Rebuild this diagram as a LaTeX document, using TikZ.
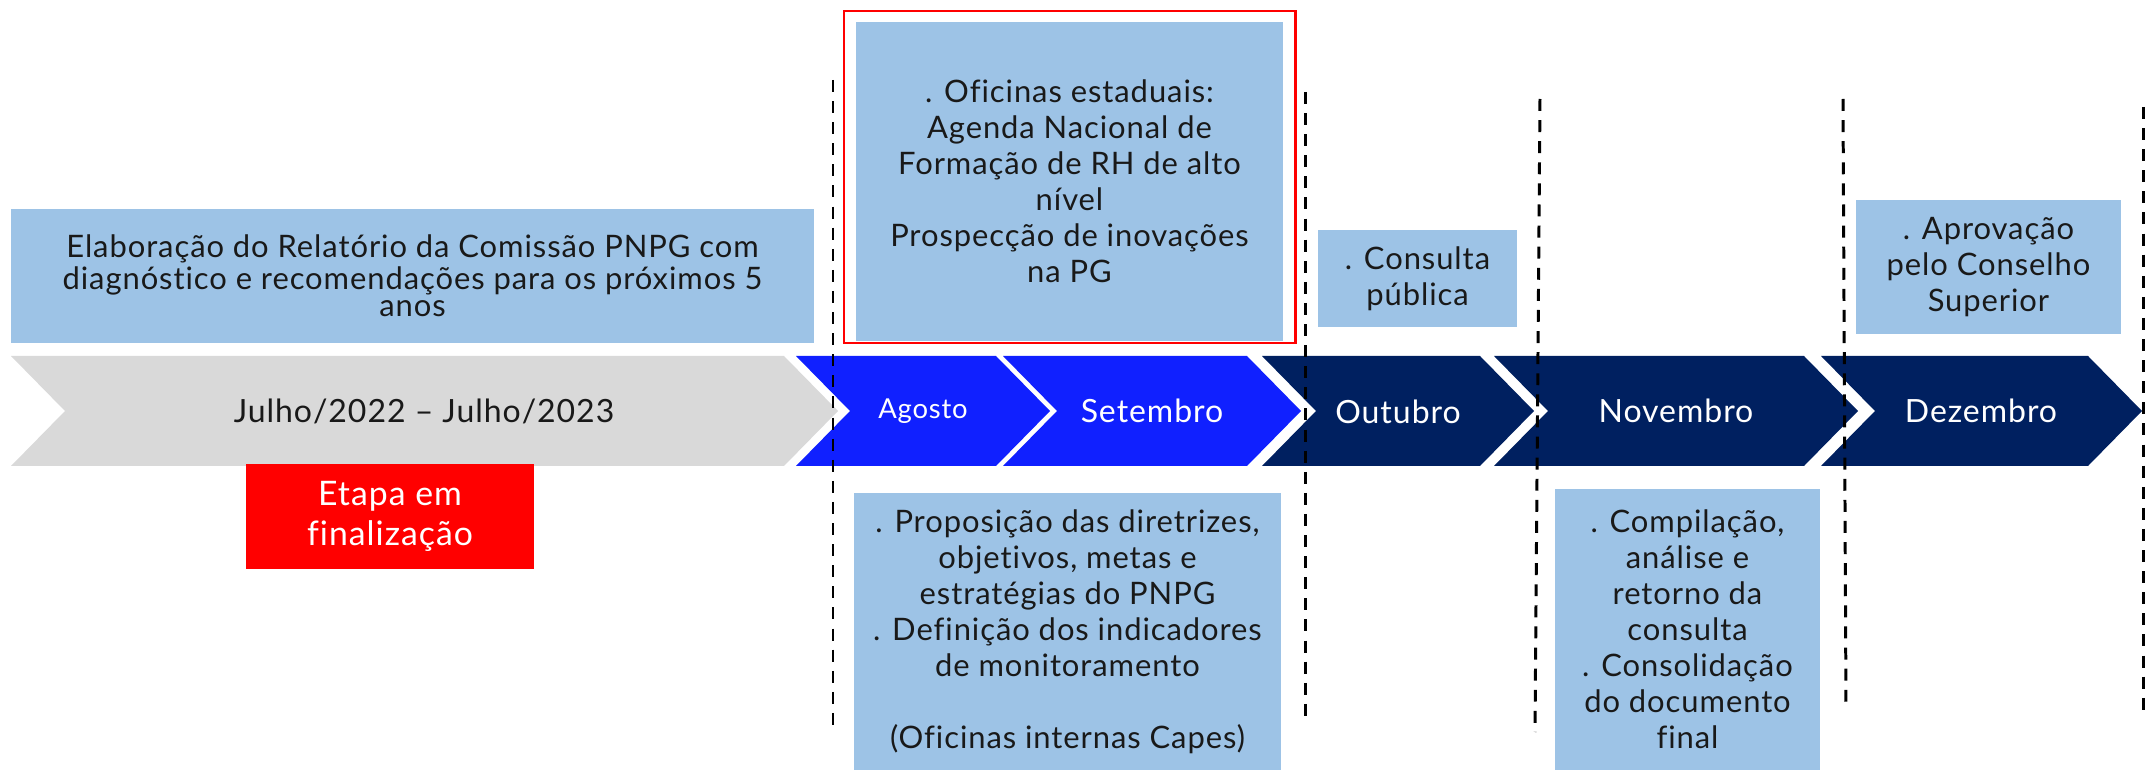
\documentclass[tikz,border=0pt]{standalone}
\usepackage{fontspec}
\setmainfont{Lato}[LetterSpace=3, Ligatures=NoCommon]
\definecolor{boxblue}{HTML}{9DC3E6}
\definecolor{arrowgray}{HTML}{D9D9D9}
\definecolor{brightblue}{HTML}{1020FF}
\definecolor{navy}{HTML}{002060}
\definecolor{alertred}{HTML}{FF0000}

\begin{document}
\begin{tikzpicture}[x=0.01cm, y=-0.01cm,
        note/.style = {fill=boxblue, align=center, inner sep=0pt, text=black!90,
                       font=\fontsize{8.8}{10.24}\selectfont},
        month/.style = {text=white, font=\fontsize{9.1}{10}\selectfont},
        divider/.style = {line width=0.85pt, dash pattern=on 3.4pt off 2.6pt}]
        \useasboundingbox (0,0) rectangle (2156,770);

        % timeline
        \fill[arrowgray]  (11,356) -- (784,356) -- (838,411) -- (784,466) -- (11,466) -- (65,411) -- cycle;
        \fill[brightblue] (796,356) -- (996,356) -- (1050,411) -- (996,466) -- (796,466) -- (850,411) -- cycle;
        \fill[brightblue] (1003,356) -- (1247,356) -- (1301,411) -- (1247,466) -- (1003,466) -- (1057,411) -- cycle;
        \fill[navy]       (1262,356) -- (1480,356) -- (1534,411) -- (1480,466) -- (1262,466) -- (1316,411) -- cycle;
        \fill[navy]       (1494,356) -- (1804,356) -- (1858,411) -- (1804,466) -- (1494,466) -- (1548,411) -- cycle;
        \fill[navy]       (1821,356) -- (2088,356) -- (2142,411) -- (2088,466) -- (1821,466) -- (1875,411) -- cycle;

        \node[month, text=black!90] (julho) at (424,411) {Julho/2022 – Julho/2023};
        \node[month, font=\fontsize{7.8}{8}\selectfont] (agosto) at (923,411) {Agosto};
        \node[month] (setembro) at (1152,411) {Setembro};
        \node[month] (outubro)  at (1398,412) {Outubro};
        \node[month] (novembro) at (1676,411) {Novembro};
        \node[month] (dezembro) at (1981,411) {Dezembro};

        % month limits
        \draw[divider] (833,80) -- (833,733);
        \draw[divider] (1305,92) -- (1305,723);
        \draw[divider] (1540,99) -- (1535,732);
        \draw[divider] (1843,99) -- (1846,707);
        \draw[divider] (2143,107) -- (2143,713);

        % activities
        \node[note, minimum width=8.03cm, minimum height=1.34cm, font=\fontsize{8.8}{7.6}\selectfont] (relatorio) at (412.5,276)
            {Elaboração do Relatório da Comissão PNPG com\\diagnóstico e recomendações para os próximos 5\\anos};
        \node[note, minimum width=4.27cm, minimum height=3.19cm] (oficinas) at (1069.5,181.5)
            {. Oficinas estaduais:\\Agenda Nacional de\\Formação de RH de alto\\nível\\Prospecção de inovações\\na PG};
        \draw[alertred, line width=0.85pt] (844,11) rectangle (1295,343);
        \node[note, minimum width=1.99cm, minimum height=0.97cm] (consulta) at (1417.5,278.5)
            {. Consulta\\pública};
        \node[note, minimum width=2.65cm, minimum height=1.34cm] (aprovacao) at (1988.5,267)
            {. Aprovação\\pelo Conselho\\Superior};
        \node[note, minimum width=4.27cm, minimum height=2.77cm] (proposicao) at (1067.5,631.5)
            {. Proposição das diretrizes,\\objetivos, metas e\\estratégias do PNPG\\. Definição dos indicadores\\de monitoramento\\\mbox{}\\(Oficinas internas Capes)};
        \node[note, minimum width=2.65cm, minimum height=2.81cm] (compilacao) at (1687.5,629.5)
            {. Compilação,\\análise e\\retorno da\\consulta\\. Consolidação\\do documento\\final};

        \node[fill=alertred, text=white, align=center, inner sep=0pt, minimum width=2.88cm, minimum height=1.05cm,
              font=\fontsize{9.6}{11.4}\selectfont] (etapa) at (390,516.5) {Etapa em\\finalização};

    \end{tikzpicture}
\end{document}
